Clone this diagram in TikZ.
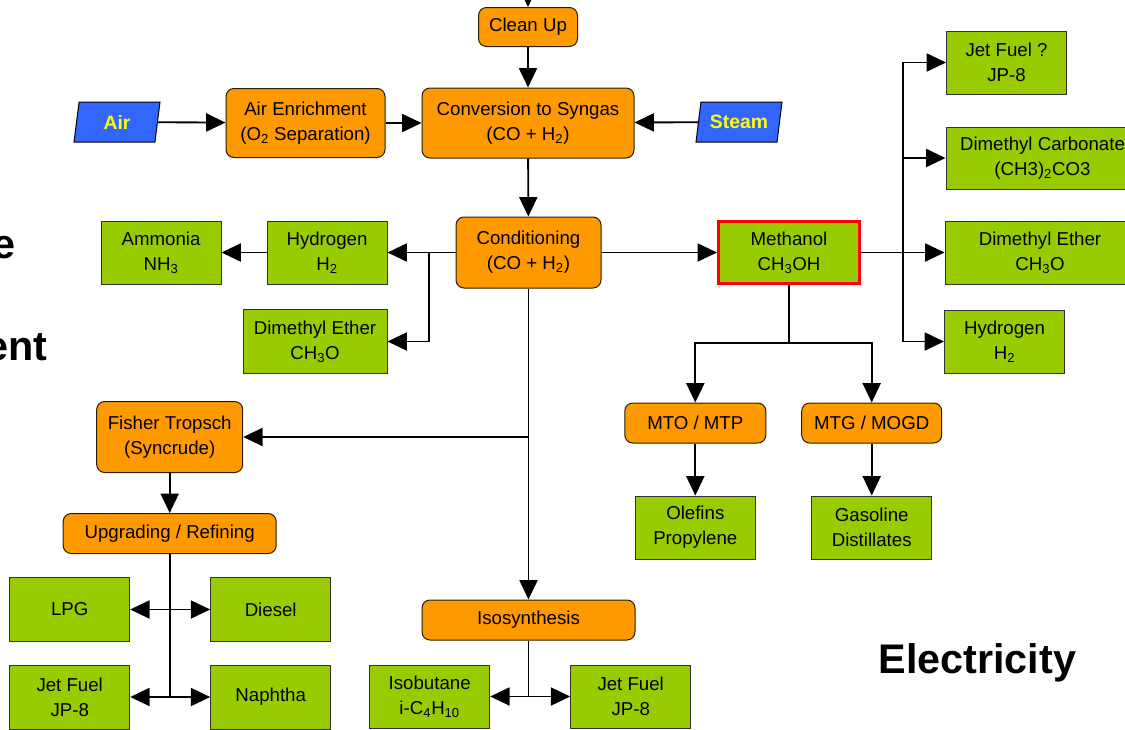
\documentclass[tikz,border=0pt]{standalone}
\usepackage{fontspec}
\setmainfont{Liberation Sans}
\usetikzlibrary{arrows.meta,shapes.geometric}

\definecolor{procorange}{RGB}{255,153,0}
\definecolor{prodgreen}{RGB}{153,204,0}
\definecolor{feedblue}{RGB}{51,102,255}
\definecolor{feedyellow}{RGB}{255,255,0}

\newcommand\diagfont{\fontsize{14pt}{18.75pt}\selectfont}

\tikzset{every picture/.style={line width=0.75pt}}
\tikzset{
  proc/.style={draw={rgb, 255:red, 40; green, 30; blue, 10 }, fill=procorange, rounded corners=6pt, align=center, inner sep=0pt},
  prod/.style={draw={rgb, 255:red, 50; green, 50; blue, 50 }, fill=prodgreen, align=center, inner sep=0pt, minimum width=90pt, minimum height=47.25pt},
  feed/.style={trapezium, trapezium left angle=70, trapezium right angle=110, trapezium stretches body, draw=black, fill=feedblue, text=feedyellow, font=\fontsize{14.5pt}{18pt}\selectfont\bfseries, inner sep=0pt, minimum width=64.5pt, minimum height=30pt},
  flow/.style={-{Triangle[length=14.5pt,width=13.5pt]}, line width=1.4pt},
  biflow/.style={{Triangle[length=14.5pt,width=13.5pt]}-{Triangle[length=14.5pt,width=13.5pt]}, line width=1.4pt},
  link/.style={line width=1.4pt},
  bigword/.style={font=\fontsize{31pt}{36pt}\selectfont\bfseries, inner sep=0pt, anchor=base east}
}

\begin{document}
\begin{tikzpicture}[x=0.75pt,y=0.75pt,yscale=-1,xscale=1,font=\diagfont]
\useasboundingbox (0,0) rectangle (1125,729);
\clip (0,0) rectangle (1125,729);

% Syngas train
\node (cleanup) at (528,27) [proc, minimum width=74.25pt, minimum height=29.25pt] {Clean Up};
\node (syngas) at (528,123) [proc, minimum width=159pt, minimum height=52.5pt] {Conversion to Syngas\\(CO + H\textsubscript{2})};
\node (airenr) at (305.5,123) [proc, minimum width=119.25pt, minimum height=51.75pt] {Air Enrichment\\(O\textsubscript{2} Separation)};
\node (air) at (117,122) [feed] {Air};
\node (steam) at (739,122) [feed] {Steam};
\node (cond) at (528.5,252.5) [proc, minimum width=108.75pt, minimum height=53.25pt] {Conditioning\\(CO + H\textsubscript{2})};

% Left products
\node (h2l) at (327,252.5) [prod] {Hydrogen\\H\textsubscript{2}};
\node (nh3) at (161,252.5) [prod] {Ammonia\\NH\textsubscript{3}};
\node (dmel) at (315,341.5) [prod, minimum width=108pt, minimum height=48pt] {Dimethyl Ether\\CH\textsubscript{3}O};

% Methanol branch
\node (meoh) at (789,252.5) [prod, draw=red, line width=2.25pt, minimum width=105.75pt, minimum height=46.5pt] {Methanol\\CH\textsubscript{3}OH};
\node (jetr) at (1006.5,62.5) [prod] {Jet Fuel ?\\JP-8};
\node (dmc) at (1042.5,158) [prod, minimum width=144.75pt, minimum height=46.5pt] {Dimethyl Carbonate\\(CH3)\textsubscript{2}CO3};
\node (demr) at (1040,252.5) [prod, minimum width=142.5pt] {Dimethyl Ether\\CH\textsubscript{3}O};
\node (h2r) at (1004.5,341.5) [prod] {Hydrogen\\H\textsubscript{2}};
\node (mto) at (695.3,423) [proc, minimum width=105.75pt, minimum height=30pt] {MTO / MTP};
\node (mtg) at (871.7,423) [proc, minimum width=105pt, minimum height=30pt] {MTG / MOGD};
\node (olef) at (695.3,527.5) [prod] {Olefins\\Propylene};
\node (gasol) at (871.7,527.5) [prod] {Gasoline\\Distillates};

% Fisher Tropsch branch
\node (ft) at (169.7,437) [proc, minimum width=109.5pt, minimum height=53.25pt] {Fisher Tropsch\\(Syncrude)};
\node (upg) at (169.7,533.5) [proc, minimum width=159.75pt, minimum height=30pt] {Upgrading / Refining};
\node (lpg) at (69.7,609.5) [prod, minimum height=48pt] {LPG};
\node (diesel) at (270.7,609.5) [prod, minimum height=48pt] {Diesel};
\node (jetl) at (69.7,697) [prod, minimum height=48pt] {Jet Fuel\\JP-8};
\node (naph) at (270.7,697) [prod, minimum height=48pt] {Naphtha};

% Isosynthesis branch
\node (iso) at (528.5,620) [proc, minimum width=159.75pt, minimum height=30pt] {Isosynthesis};
\node (isob) at (429.7,696.5) [prod] {Isobutane\\i-C\textsubscript{4}H\textsubscript{10}};
\node (jetb) at (630.7,696.5) [prod] {Jet Fuel\\JP-8};

% Slide words cut by the frame
\node (lefte) at (16,258) [bigword] {e};
\node (leftent) at (48,360) [bigword] {ent};
\node (elec) at (878,673) [anchor=base west, inner sep=0pt, font=\fontsize{31pt}{36pt}\selectfont\bfseries] {Electricity};

% Connectors
\coordinate (feedin) at (528,-30);
\coordinate (splitl) at (429,252.5);
\coordinate (splitr) at (903,252.5);
\coordinate (splitm) at (789,342.7);
\coordinate (splitft) at (528.5,437);

\draw[flow] (feedin) -- (cleanup);
\draw[flow] (cleanup) -- (syngas);
\draw[flow] (air) -- (airenr);
\draw[flow] (airenr) -- (syngas);
\draw[flow] (steam) -- (syngas);
\draw[flow] (syngas) -- (cond);
\draw[flow] (cond) -- (h2l);
\draw[flow] (h2l) -- (nh3);
\draw[flow] (splitl) |- (dmel);
\draw[flow] (cond) -- (meoh);
\draw[flow] (meoh) -- (demr);
\draw[flow] (splitr) |- (jetr);
\draw[flow] (splitr) |- (dmc);
\draw[flow] (splitr) |- (h2r);
\draw[link] (meoh) -- (splitm);
\draw[flow] (splitm) -| (mto);
\draw[flow] (splitm) -| (mtg);
\draw[flow] (mto) -- (olef);
\draw[flow] (mtg) -- (gasol);
\draw[flow] (cond) -- (iso);
\draw[flow] (splitft) -- (ft);
\draw[flow] (ft) -- (upg);
\draw[link] (upg.south) -- (upg.south |- naph.west);
\draw[biflow] (lpg) -- (diesel);
\draw[biflow] (jetl) -- (naph);
\draw[link] (iso.south) -- (iso.south |- isob.east);
\draw[biflow] (isob) -- (jetb);

\end{tikzpicture}
\end{document}
